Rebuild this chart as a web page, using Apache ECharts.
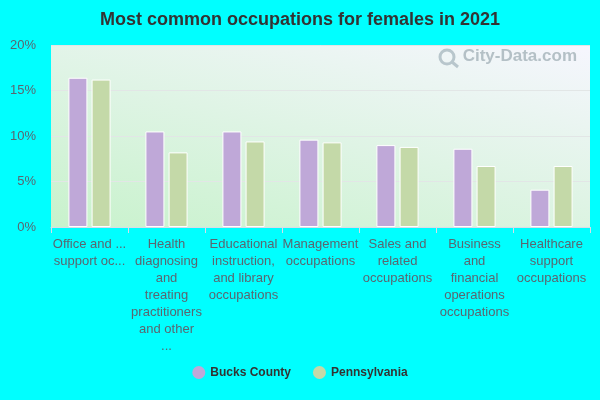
<!DOCTYPE html>
<html><head><meta charset="utf-8">
<script src="https://cdn.jsdelivr.net/npm/echarts@6/dist/echarts.min.js"></script>
<style>html,body{margin:0;padding:0;background:#00ffff;}#c{width:600px;height:400px;}</style>
</head><body><div id="c"></div>
<script>
const categories = [
  "Office and ...\nsupport oc...",
  "Health\ndiagnosing\nand\ntreating\npractitioners\nand other\n...",
  "Educational\ninstruction,\nand library\noccupations",
  "Management\noccupations",
  "Sales and\nrelated\noccupations",
  "Business\nand\nfinancial\noperations\noccupations",
  "Healthcare\nsupport\noccupations"
];
const bucksCounty = [16.4, 10.5, 10.5, 9.6, 9.0, 8.6, 4.1];
const pennsylvania = [16.2, 8.2, 9.4, 9.3, 8.8, 6.7, 6.7];
const yTicks = [0, 5, 10, 15, 20];

const FONT = 'Liberation Sans, Arial, sans-serif';
const chart = echarts.init(document.getElementById('c'), null, {renderer: 'canvas'});
chart.setOption({
  backgroundColor: '#00ffff',
  title: {
    text: 'Most common occupations for females in 2021',
    left: 'center', top: 6,
    textStyle: {fontFamily: FONT, fontSize: 18, fontWeight: 'bold', color: '#333'}
  },
  legend: {
    bottom: 16, left: 'center', itemGap: 22,
    icon: 'circle', itemWidth: 13, itemHeight: 13,
    itemStyle: {borderWidth: 0},
    textStyle: {fontFamily: FONT, fontSize: 12, fontWeight: 'bold', color: '#333'},
    data: ['Bucks County', 'Pennsylvania']
  },
  grid: {
    left: 51, right: 10, top: 45, bottom: 173, containLabel: false,
    show: true, borderWidth: 0,
    backgroundColor: new echarts.graphic.LinearGradient(0, 1, 0.138, -0.638, [
      {offset: 0, color: '#c8f2cc'},
      {offset: 1, color: '#f6f6fe'}
    ])
  },
  graphic: [
    {type: 'circle', z: 1, shape: {cx: 447, cy: 57, r: 7},
     style: {fill: 'none', stroke: '#b8c6cc', lineWidth: 3}},
    {type: 'line', z: 1, shape: {x1: 452, y1: 62, x2: 458, y2: 67},
     style: {stroke: '#b8c6cc', lineWidth: 3}},
    {type: 'text', right: 23, top: 48, z: 1,
     style: {text: 'City-Data.com', fill: '#b4c0c6', font: 'bold 17px "Liberation Sans", Arial, sans-serif'}}
  ],
  xAxis: {
    type: 'category', data: categories,
    axisLine: {lineStyle: {color: '#d8dce8'}},
    axisTick: {show: true, length: 6, lineStyle: {color: '#d8dce8'}},
    axisLabel: {interval: 0, margin: 9, fontFamily: FONT, fontSize: 13, lineHeight: 17, color: '#5a6670'}
  },
  yAxis: {
    type: 'value', min: yTicks[0], max: yTicks[yTicks.length - 1], interval: 5,
    axisLabel: {formatter: '{value}%', fontFamily: FONT, fontSize: 13, color: '#5a6670', margin: 15},
    splitLine: {lineStyle: {color: '#e2e6e6'}},
    axisLine: {show: false}, axisTick: {show: false}
  },
  series: [
    {name: 'Bucks County', type: 'bar', data: bucksCounty, barWidth: 19, barGap: '22%',
     itemStyle: {color: '#bfa8d8', borderColor: '#ffffff', borderWidth: 1}},
    {name: 'Pennsylvania', type: 'bar', data: pennsylvania, barWidth: 19,
     itemStyle: {color: '#c4d9a8', borderColor: '#ffffff', borderWidth: 1}}
  ]
});
</script></body></html>
